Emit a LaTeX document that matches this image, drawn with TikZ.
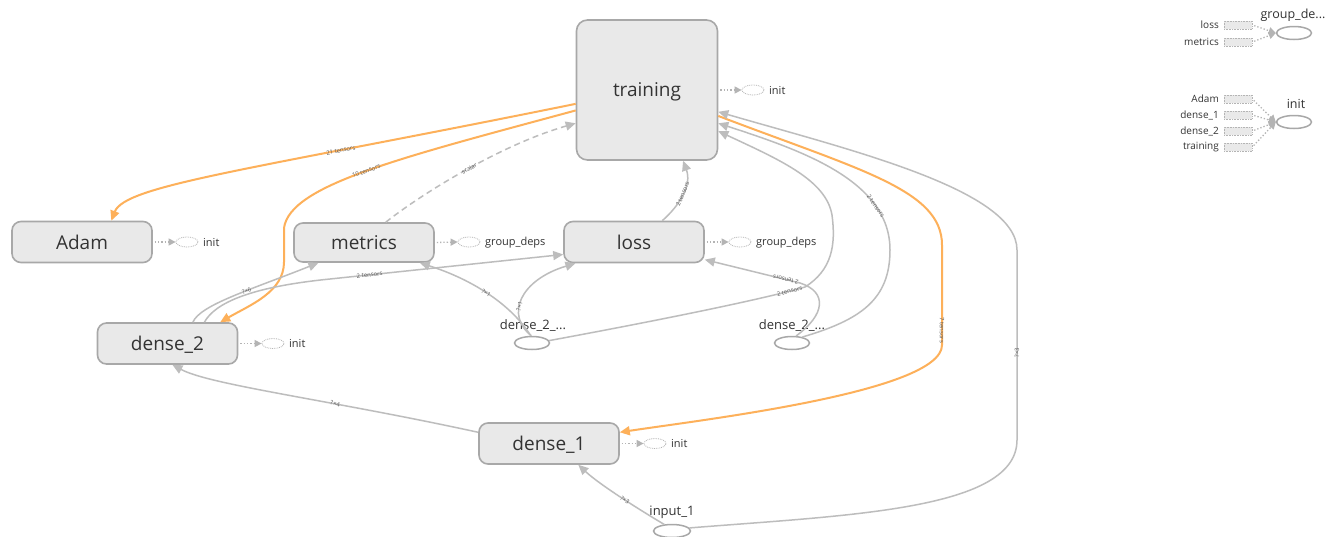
\documentclass[tikz,border=0pt]{standalone}
\usepackage{fontspec}
\setmainfont{Open Sans}
\usetikzlibrary{arrows.meta,shapes.geometric}

\definecolor{opfill}{HTML}{E9E9E9}
\definecolor{opline}{HTML}{A8A8A8}
\definecolor{flowgray}{HTML}{BDBDBD}
\definecolor{reforange}{HTML}{FDB05A}
\definecolor{inktext}{HTML}{333333}
\definecolor{auxline}{HTML}{B4B4B4}

\begin{document}
\begin{tikzpicture}[x=1pt, y=-1pt,
  opnode/.style={draw=opline, line width=1.6pt, fill=opfill, rounded corners=9pt,
    minimum width=140pt, minimum height=41pt, inner sep=0pt, text=inktext,
    text depth=0pt, font=\fontsize{19}{19}\selectfont},
  constnode/.style={draw=opline, line width=1.5pt, fill=white, ellipse,
    minimum width=35pt, minimum height=13pt, inner sep=0pt},
  constlabel/.style={text=inktext, font=\fontsize{13}{13}\selectfont, inner sep=0pt},
  auxnode/.style={draw=auxline, densely dotted, line width=0.8pt, ellipse, fill=white,
    minimum width=22pt, minimum height=10pt, inner sep=0pt},
  auxlabel/.style={text=inktext, font=\fontsize{11}{11}\selectfont, anchor=west, inner sep=0pt},
  auxlink/.style={draw=auxline, dotted, line width=1.3pt, shorten <=2pt,
    -{Triangle[length=7pt,width=7pt,fill=auxline]}},
  legbox/.style={draw=auxline, densely dotted, line width=0.6pt, fill=opfill,
    minimum width=28pt, minimum height=8pt, inner sep=0pt},
  legtext/.style={text=inktext, font=\fontsize{10}{10}\selectfont, anchor=east, inner sep=0pt},
  legtitle/.style={text=inktext, font=\fontsize{12.5}{12.5}\selectfont, inner sep=0pt},
  flow/.style={draw=flowgray, line width=1.5pt, -{Triangle[length=10pt,width=9pt]}},
  refflow/.style={draw=reforange, line width=2pt, -{Triangle[length=10pt,width=9pt]}},
  ctrlflow/.style={flow, dash pattern=on 6pt off 4pt},
  elabel/.style={sloped, text=inktext!80, font=\fontsize{6}{6}\selectfont, inner sep=0.5pt},
]
\fill[white] (0,0) rectangle (1326,536);
\useasboundingbox (0,0) rectangle (1326,536);

% ---- operation nodes ----
\node[opnode, minimum width=141pt, minimum height=140pt, rounded corners=11pt] (training) at (647,90) {training};
\node[opnode] (adam) at (82,242) {Adam};
\node[opnode, minimum height=39pt] (metrics) at (364,242.5) {metrics};
\node[opnode] (loss) at (634,242) {loss};
\node[opnode] (dense2) at (167.5,343.5) {dense\_2};
\node[opnode] (dense1) at (549,443.5) {dense\_1};

% ---- constant / input nodes ----
\node[constnode] (tgtA) at (532,343) {};
\node[constlabel] (tgtAl) at (533,326) {dense\_2\_...};
\node[constnode] (tgtB) at (792,343) {};
\node[constlabel] (tgtBl) at (792,326) {dense\_2\_...};
\node[constnode, minimum width=37pt] (inp) at (672,531) {};
\node[constlabel] (inpl) at (672,512) {input\_1};

% ---- data flow ----
\draw[refflow] (training.191) .. controls (250,170) and (125,185) ..
  node[elabel, pos=0.29] {21 tensors} (adam.36);
\draw[refflow] (training.196) .. controls (400,158) and (290,185) ..
  node[elabel, pos=0.5] {10 tensors} (284,228) -- (284,262)
  .. controls (284,292) and (250,305) .. (dense2.22);
\draw[ctrlflow] (metrics.43) .. controls (420,195) and (500,145) ..
  node[elabel, pos=0.52] {scalar} (training.205);
\draw[flow] (loss.37) .. controls (680,205) and (692,185) ..
  node[elabel, pos=0.5] {2 tensors} (training.297);
\draw[flow] (dense2.40) .. controls (200,305) and (250,290) ..
  node[elabel, pos=0.6] {?×6} (metrics.204);
\draw[flow] (dense2.30) .. controls (215,303) and (250,287) .. (330,279) --
  node[elabel, pos=0.17] {2 tensors} (loss.190);
\draw[flow] (tgtA.100) .. controls (515,310) and (480,282) ..
  node[elabel, pos=0.55] {?×1} (metrics.-20);
\draw[flow] (tgtA.95) .. controls (505,315) and (520,280) ..
  node[elabel, pos=0.4] {?×1} (loss.200);
\draw[flow] (tgtA.8) .. controls (650,322) and (760,300) ..
  node[elabel, pos=0.9] {2 tensors} (805,287)
  .. controls (832,270) and (836,245) .. (832,215)
  .. controls (826,180) and (780,160) .. (training.-30);
\draw[flow] (tgtB.60) .. controls (825,315) and (828,292) .. (800,283) --
  node[elabel, allow upside down, pos=0.15] {2 tensors} (loss.-14);
\draw[flow] (tgtB.30) .. controls (860,320) and (890,300) .. (890,250)
  .. controls (890,180) and (800,150) ..
  node[elabel, pos=0.24] {2 tensors} (training.-25);
\draw[refflow] (training.-20) .. controls (860,170) and (942,190) .. (942,245) --
  node[elabel, pos=0.85] {7 tensors} (942,345)
  .. controls (942,392) and (700,420) .. (dense1.9);
\draw[flow] (inp.10) .. controls (850,515) and (1017,510) .. (1017,440) --
  node[elabel, pos=0.46] {?×3} (1017,250)
  .. controls (1017,190) and (850,150) .. (training.-17);
\draw[flow] (inp.140) .. controls (640,510) and (600,485) ..
  node[elabel, pos=0.45] {?×3} (dense1.-36);
\draw[flow] (dense1.171) .. controls (330,400) and (210,385) ..
  node[elabel, pos=0.35] {?×4} (dense2.283);

% ---- init / group_deps hints beside the nodes ----
\node[auxnode] (adamaux) at (187,242) {};
\node[auxlabel] (adamauxl) at (203,242.5) {init};
\draw[auxlink] (adam.east) -- (adamaux.west);

\node[auxnode] (metaux) at (469,242) {};
\node[auxlabel] (metauxl) at (485,242.5) {group\_deps};
\draw[auxlink] (metrics.east) -- (metaux.west);

\node[auxnode] (lossaux) at (740,242) {};
\node[auxlabel] (lossauxl) at (756,242.5) {group\_deps};
\draw[auxlink] (loss.east) -- (lossaux.west);

\node[auxnode] (trainaux) at (753,90) {};
\node[auxlabel] (trainauxl) at (769,90.5) {init};
\draw[auxlink] (training.east) -- (trainaux.west);

\node[auxnode] (d2aux) at (273,343.5) {};
\node[auxlabel] (d2auxl) at (289,344) {init};
\draw[auxlink] (dense2.east) -- (d2aux.west);

\node[auxnode] (d1aux) at (655,443.5) {};
\node[auxlabel] (d1auxl) at (671,444) {init};
\draw[auxlink] (dense1.east) -- (d1aux.west);

% ---- summary of the group_deps and init nodes ----
\node[constnode] (gdsum) at (1294,33) {};
\node[legtitle] (gdsuml) at (1293,15) {group\_de...};
\node[legbox] (gdloss) at (1238,25) {};
\node[legtext] (gdlossl) at (1219,25) {loss};
\node[legbox] (gdmet) at (1238,42) {};
\node[legtext] (gdmetl) at (1219,42) {metrics};
\draw[auxlink] (gdloss.east) -- (gdsum.west);
\draw[auxlink] (gdmet.east) -- (gdsum.west);

\node[constnode] (initsum) at (1294,122) {};
\node[legtitle] (initsuml) at (1296,104) {init};
\node[legbox] (inadam) at (1238,99) {};
\node[legtext] (inadaml) at (1219,99) {Adam};
\node[legbox] (ind1) at (1238,115) {};
\node[legtext] (ind1l) at (1219,115) {dense\_1};
\node[legbox] (ind2) at (1238,131) {};
\node[legtext] (ind2l) at (1219,131) {dense\_2};
\node[legbox] (intr) at (1238,147) {};
\node[legtext] (intrl) at (1219,147) {training};
\draw[auxlink] (inadam.east) -- (initsum.west);
\draw[auxlink] (ind1.east) -- (initsum.west);
\draw[auxlink] (ind2.east) -- (initsum.west);
\draw[auxlink] (intr.east) -- (initsum.west);
\end{tikzpicture}
\end{document}
